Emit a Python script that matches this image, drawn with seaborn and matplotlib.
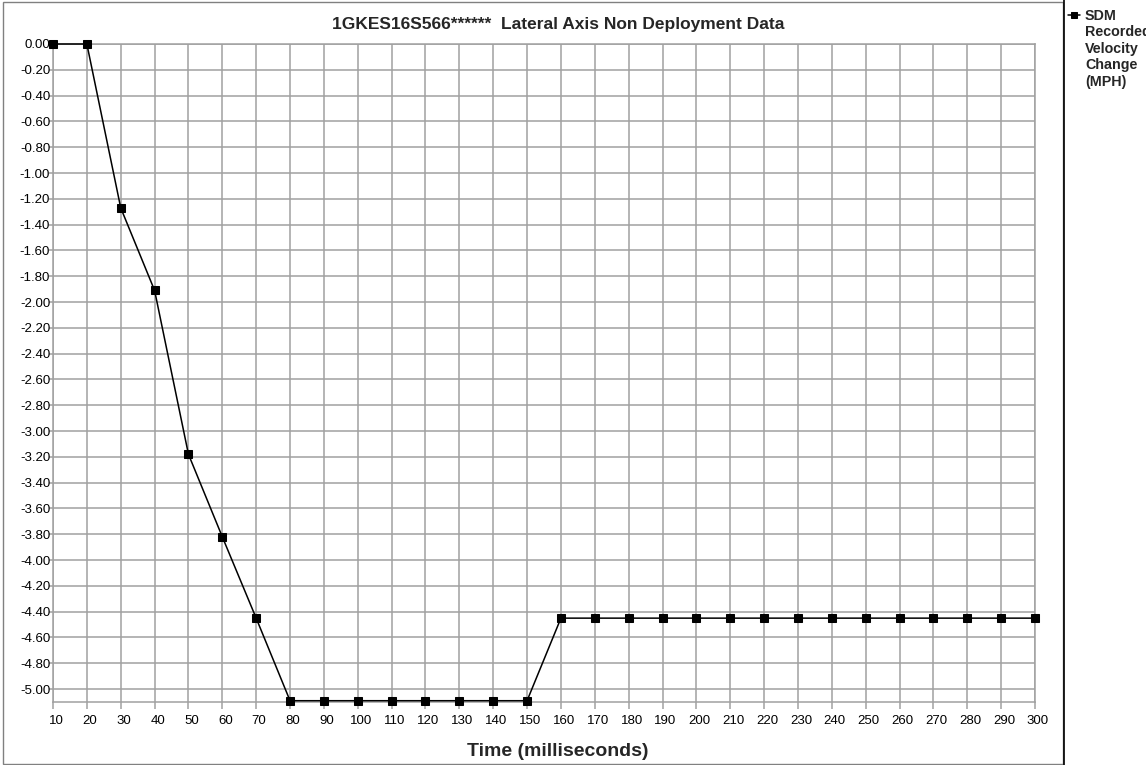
import matplotlib
matplotlib.use("Agg")
import matplotlib.pyplot as plt
import matplotlib.transforms as mtransforms
from matplotlib.lines import Line2D
from matplotlib.patches import Rectangle
import numpy as np
import pandas as pd
import seaborn as sns

# ---- data ----
time_ms = [10, 20, 30, 40, 50, 60, 70, 80, 90, 100, 110, 120, 130, 140, 150,
           160, 170, 180, 190, 200, 210, 220, 230, 240, 250, 260, 270, 280, 290, 300]
delta_v = [0.00, 0.00, -1.27, -1.91, -3.18, -3.82, -4.45,
           -5.09, -5.09, -5.09, -5.09, -5.09, -5.09, -5.09, -5.09,
           -4.45, -4.45, -4.45, -4.45, -4.45, -4.45, -4.45, -4.45, -4.45, -4.45,
           -4.45, -4.45, -4.45, -4.45, -4.45]
y_ticks = [round(-0.2 * i, 2) for i in range(26)]
title_text = "1GKES16S566******  Lateral Axis Non Deployment Data"
x_label = "Time (milliseconds)"
legend_title = "SDM"
legend_rest = "Recorded\nVelocity\nChange\n(MPH)"

df = pd.DataFrame({"time": time_ms, "dv": delta_v})

sns.set_theme(style="white")
plt.rcParams["font.family"] = ["Liberation Sans", "DejaVu Sans"]

W, H = 1146, 765
fig = plt.figure(figsize=(W / 100, H / 100), dpi=100)
fig.patch.set_facecolor("white")

left, right, top, bottom = 53, 1035, 44, 702
ax = fig.add_axes([left / W, 1 - bottom / H, (right - left) / W, (bottom - top) / H])

grid_c = "#a0a0a0"
sns.lineplot(data=df, x="time", y="dv", ax=ax, color="black", linewidth=1.1,
             marker="s", markersize=6, markeredgecolor="black",
             markerfacecolor="black", label=legend_title, clip_on=False,
             zorder=5)

ax.set_xlim(10, 300)
ax.set_ylim(-5.1, 0)
ax.set_xticks(time_ms)
ax.set_xticklabels([str(t) for t in time_ms])
ax.set_yticks(y_ticks)
ax.set_yticklabels([f"{v:.2f}" if v != 0 else "0.00" for v in y_ticks])
ax.grid(True, color=grid_c, linewidth=1.1)
ax.set_axisbelow(True)
for s in ax.spines.values():
    s.set_color(grid_c)
    s.set_linewidth(1.1)
ax.tick_params(axis="x", length=5, width=1.1, color=grid_c, pad=4,
               labelsize=9.5, labelcolor="black", direction="out", bottom=True)
ax.tick_params(axis="y", length=3, width=1.1, color=grid_c, pad=-1,
               labelsize=9.5, labelcolor="black", direction="out", left=True)
offset = mtransforms.ScaledTranslation(3 / 100, 0, fig.dpi_scale_trans)
for lab in ax.get_xticklabels():
    lab.set_transform(lab.get_transform() + offset)
ax.set_xlabel("")
ax.set_ylabel("")

# title and axis label
fig.text(558 / W, 1 - 25 / H, title_text, ha="center", va="center",
         fontsize=12.5, fontweight="bold")
fig.text(558 / W, 1 - 752 / H, x_label, ha="center", va="center",
         fontsize=14, fontweight="bold")

# frame & legend separator
fig.add_artist(Rectangle((3 / W, 1 - 764 / H), (1063 - 3) / W, (764 - 2) / H,
                         transform=fig.transFigure, fill=False,
                         edgecolor="#808080", linewidth=1.0))
fig.add_artist(Line2D([1064 / W, 1064 / W], [0, 1], transform=fig.transFigure,
                      color="black", linewidth=1.2))

# legend
leg = ax.legend(loc="upper left", bbox_to_anchor=(1068 / W, 1 - 9 / H),
                bbox_transform=fig.transFigure, frameon=False,
                handlelength=0.85, handletextpad=0.3, borderpad=0,
                borderaxespad=0, prop={"size": 10.3, "weight": "bold"})
for h in leg.legend_handles:
    h.set_markersize(4.5)
fig.text(1085 / W, 1 - 25 / H, legend_rest, ha="left", va="top",
         fontsize=10.3, fontweight="bold", linespacing=1.23)

fig.savefig("out.png", dpi=100)
